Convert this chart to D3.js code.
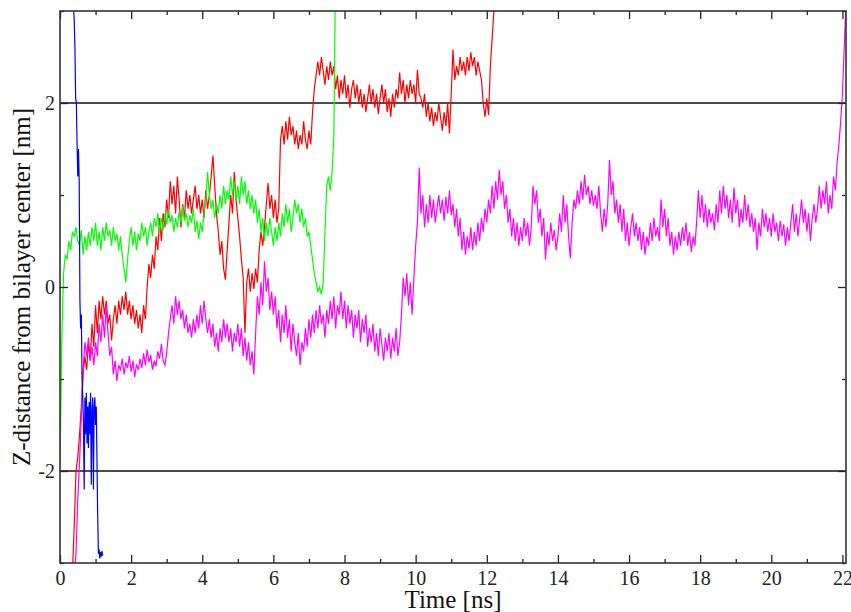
<!DOCTYPE html>
<html>
<head>
<meta charset="utf-8">
<script src="https://cdn.jsdelivr.net/npm/d3@7"></script>
<style>
  body { margin: 0; background: #fff; }
  svg { display: block; }
  .axis path { display: none; }
  .axis line { stroke: #222; stroke-width: 1.3; }
</style>
</head>
<body>
<svg id="chart" width="851" height="612"></svg>
<script>
// time axis (ns) and z ticks
var xTicks = [0, 2, 4, 6, 8, 10, 12, 14, 16, 18, 20, 22];
var xMinor = [1, 3, 5, 7, 9, 11, 13, 15, 17, 19, 21];
var yTicks = [-2, 0, 2];
var yMinor = [-3, -1, 1, 3];
var refLines = [-2, 2];

// each trajectory: start time, sampling step (ns), z values (nm)
var step = 0.05;
var blueStart = 0.30, blueStep = 0.02;
var blueZ = [3.6, 3.4, 3.25, 3.15, 3.05, 2.9, 2.6, 2.05, 2.0, 1.55, 1.2, 1.5, 1.15, -0.15, -0.45, -0.3,
  -1.0, -1.2, -1.5, -2.2, -1.2, -1.6, -1.15, -1.7, -1.3, -1.75, -1.25, -1.6, -1.15, -2.15, -1.35, -1.2,
  -2.2, -1.3, -1.2, -1.5, -1.3, -1.9, -2.5, -2.9, -2.85, -2.95, -2.88, -2.93, -2.87, -2.92];

var greenStart = 0.0;
var greenZ = [-1.95, -0.6, 0.15, 0.35, 0.3, 0.5, 0.4, 0.6, 0.55, 0.65, 0.5, 0.45, 0.62, 0.35, 0.55, 0.4,
  0.6, 0.45, 0.65, 0.5, 0.7, 0.45, 0.6, 0.4, 0.65, 0.5, 0.7, 0.55, 0.62, 0.45, 0.65, 0.5, 0.58, 0.4, 0.55,
  0.35, 0.2, 0.05, 0.3, 0.5, 0.65, 0.45, 0.6, 0.4, 0.58, 0.5, 0.7, 0.55, 0.65, 0.45, 0.6, 0.7, 0.55, 0.75,
  0.65, 0.8, 0.6, 0.75, 0.62, 0.8, 0.68, 0.85, 0.7, 0.78, 0.6, 0.75, 0.65, 0.82, 0.7, 0.88, 0.72, 0.8, 0.65,
  0.78, 0.7, 0.85, 0.6, 0.72, 0.52, 0.7, 0.6, 0.8, 0.95, 1.25, 1.0, 0.85, 0.95, 0.75, 0.9, 0.8, 1.0, 0.85,
  1.1, 0.9, 1.05, 0.95, 1.2, 1.0, 1.15, 0.95, 1.1, 0.9, 1.2, 1.0, 1.15, 0.9, 1.05, 0.85, 1.0, 0.8, 0.95,
  0.7, 0.85, 0.6, 0.75, 0.5, 0.7, 0.55, 0.75, 0.6, 0.45, 0.65, 0.5, 0.7, 0.55, 0.8, 0.65, 0.9, 0.7, 0.85,
  0.6, 0.75, 0.95, 0.8, 0.9, 0.7, 0.85, 0.65, 0.75, 0.55, 0.6, 0.45, 0.3, 0.15, 0.05, -0.05, 0.0, -0.08,
  0.05, 0.6, 1.1, 1.2, 1.05, 1.25, 1.65, 3.5];

var redStart = 0.35;
var redZ = [-3.1, -2.6, -2.0, -1.85, -1.6, -1.3, -0.95, -0.75, -0.9, -0.6, -0.8, -0.4, -0.65, -0.2, -0.5,
  -0.15, -0.35, -0.1, -0.3, -0.15, -0.4, -0.3, -0.58, -0.35, -0.2, -0.4, -0.15, -0.3, -0.1, -0.25, -0.05,
  -0.3, -0.15, -0.35, -0.2, -0.4, -0.25, -0.45, -0.3, -0.5, -0.2, -0.35, 0.0, 0.25, 0.1, 0.35, 0.2, 0.55,
  0.4, 0.75, 0.5, 0.8, 0.65, 0.95, 0.75, 1.15, 0.9, 1.1, 0.8, 1.2, 0.95, 0.65, 0.9, 0.75, 1.05, 0.85, 1.0,
  0.8, 0.95, 1.1, 0.85, 1.0, 0.8, 0.95, 0.75, 1.05, 0.85, 1.0, 1.2, 1.43, 1.1, 0.8, 0.6, 0.35, 0.5, 0.2,
  0.08, 0.4, 0.7, 1.0, 0.8, 1.25, 0.95, 0.75, 0.55, 0.3, 0.1, -0.5, 0.05, 0.2, -0.05, 0.15, -0.02, 0.2,
  0.05, 0.4, 0.6, 0.45, 0.65, 0.9, 1.13, 0.85, 1.0, 0.75, 0.95, 0.7, 0.85, 1.6, 1.75, 1.55, 1.8, 1.6, 1.85,
  1.65, 1.75, 1.55, 1.7, 1.5, 1.65, 1.55, 1.8, 1.6, 1.5, 1.7, 1.55, 1.9, 2.15, 2.3, 2.45, 2.3, 2.5, 2.35,
  2.2, 2.4, 2.25, 2.45, 2.3, 2.4, 2.15, 2.3, 2.05, 2.25, 2.1, 2.3, 2.05, 2.2, 1.95, 2.15, 2.25, 2.05, 2.2,
  2.0, 2.15, 1.95, 2.1, 1.9, 2.05, 2.2, 2.0, 2.15, 1.95, 2.1, 1.88, 2.05, 2.2, 2.0, 2.15, 1.9, 2.05, 1.85,
  2.1, 1.95, 2.15, 2.05, 2.33, 2.1, 2.25, 2.0, 2.2, 2.05, 2.25, 2.1, 2.2, 2.0, 2.36, 2.1, 2.05, 1.95, 2.1,
  1.85, 2.0, 1.8, 1.95, 1.75, 1.9, 1.8, 2.0, 1.85, 1.7, 1.9, 1.75, 2.0, 1.67, 2.1, 2.58, 2.25, 2.4, 2.3,
  2.5, 2.35, 2.45, 2.3, 2.5, 2.35, 2.55, 2.4, 2.5, 2.3, 2.45, 2.35, 2.25, 2.0, 1.85, 2.05, 1.87, 2.4, 2.7,
  3.0, 3.4];

var magentaStart = 0.40;
var magentaZ = [-3.1, -2.9, -2.3, -1.9, -1.4, -0.9, -0.6, -0.75, -0.55, -0.8, -0.65, -0.85, -0.6, -0.75,
  -0.4, -0.6, -0.3, -0.55, -0.2, -0.5, -0.75, -0.65, -0.95, -0.8, -1.02, -0.85, -0.9, -0.78, -0.95, -0.82,
  -0.88, -0.75, -0.92, -0.8, -0.98, -0.84, -0.9, -0.78, -0.88, -0.72, -0.85, -0.68, -0.82, -0.74, -0.9,
  -0.8, -0.86, -0.7, -0.78, -0.62, -0.8, -0.85, -0.72, -0.5, -0.35, -0.2, -0.4, -0.1, -0.3, -0.15, -0.35,
  -0.25, -0.45, -0.3, -0.5, -0.4, -0.55, -0.35, -0.5, -0.3, -0.45, -0.2, -0.4, -0.15, -0.35, -0.5, -0.35,
  -0.55, -0.4, -0.65, -0.5, -0.7, -0.45, -0.6, -0.35, -0.55, -0.4, -0.6, -0.45, -0.7, -0.5, -0.6, -0.4,
  -0.65, -0.45, -0.75, -0.55, -0.8, -0.6, -0.85, -0.7, -0.95, -0.5, -0.1, -0.3, 0.05, -0.2, 0.28, -0.05,
  0.1, -0.25, -0.05, -0.3, -0.1, -0.45, -0.25, -0.6, -0.3, -0.5, -0.2, -0.55, -0.35, -0.7, -0.4, -0.6,
  -0.75, -0.5, -0.85, -0.6, -0.7, -0.45, -0.65, -0.35, -0.55, -0.3, -0.5, -0.25, -0.45, -0.2, -0.4, -0.3,
  -0.55, -0.25, -0.4, -0.15, -0.35, -0.1, -0.45, -0.2, -0.3, -0.05, -0.35, -0.15, -0.45, -0.2, -0.4, -0.25,
  -0.55, -0.3, -0.45, -0.25, -0.6, -0.35, -0.5, -0.3, -0.65, -0.45, -0.6, -0.4, -0.7, -0.5, -0.75, -0.45,
  -0.62, -0.8, -0.55, -0.7, -0.5, -0.78, -0.55, -0.7, -0.45, -0.75, -0.6, -0.3, 0.1, -0.1, 0.15, -0.2,
  0.05, -0.3, 0.1, 0.45, 0.7, 1.3, 0.8, 1.0, 0.65, 0.9, 0.7, 1.0, 0.75, 0.95, 0.7, 0.85, 1.0, 0.8, 0.95,
  0.72, 0.98, 0.8, 1.05, 0.78, 0.9, 0.65, 0.85, 0.55, 0.75, 0.4, 0.6, 0.35, 0.55, 0.42, 0.65, 0.4, 0.6,
  0.45, 0.7, 0.5, 0.75, 0.6, 0.85, 0.7, 0.95, 0.8, 1.1, 0.85, 1.15, 0.95, 1.27, 1.0, 1.15, 0.85, 1.0, 0.7,
  0.85, 0.55, 0.75, 0.5, 0.7, 0.45, 0.65, 0.5, 0.75, 0.55, 0.7, 0.45, 0.65, 1.1, 0.9, 1.05, 0.7, 0.85,
  0.55, 0.75, 0.3, 0.6, 0.45, 0.7, 0.5, 0.62, 0.4, 0.55, 0.8, 0.6, 1.0, 0.7, 0.9, 0.55, 0.31, 0.7, 0.95,
  0.85, 1.05, 0.9, 1.15, 0.95, 1.22, 1.0, 1.1, 0.9, 1.05, 0.88, 1.0, 0.85, 1.1, 0.8, 0.6, 0.85, 0.65, 0.9,
  1.38, 1.0, 1.15, 0.8, 0.95, 0.7, 0.9, 0.6, 0.85, 0.5, 0.7, 0.45, 0.65, 0.8, 0.55, 0.7, 0.5, 0.65, 0.4,
  0.6, 0.35, 0.55, 0.45, 0.7, 0.5, 0.75, 0.55, 0.65, 0.5, 0.95, 0.65, 0.85, 0.55, 0.75, 0.45, 0.6, 0.35,
  0.55, 0.4, 0.6, 0.45, 0.65, 0.5, 0.7, 0.45, 0.6, 0.38, 0.55, 0.45, 0.7, 1.05, 0.75, 1.0, 0.7, 0.9, 0.65,
  0.85, 0.7, 0.8, 0.62, 0.9, 0.7, 1.05, 0.8, 1.1, 0.85, 1.0, 0.75, 0.95, 0.7, 1.08, 0.8, 0.95, 0.65, 0.85,
  0.7, 1.0, 0.72, 0.9, 0.65, 0.8, 0.6, 0.75, 0.4, 0.7, 0.55, 0.85, 0.65, 0.8, 0.6, 0.75, 0.55, 0.8, 0.6,
  0.7, 0.5, 0.72, 0.55, 0.68, 0.45, 0.65, 0.5, 0.7, 0.9, 0.6, 0.8, 0.55, 0.75, 0.95, 0.7, 0.85, 0.6, 0.8,
  0.5, 0.75, 0.9, 0.7, 0.85, 1.1, 0.85, 1.05, 0.9, 1.15, 0.8, 1.0, 0.85, 1.2, 1.05, 1.35, 1.55, 1.8, 2.1,
  2.6, 3.1];

var series = [
  { name: "red", color: "#ff0000", start: redStart, dt: step, z: redZ },
  { name: "magenta", color: "#ff00ff", start: magentaStart, dt: step, z: magentaZ },
  { name: "green", color: "#00ff00", start: greenStart, dt: step, z: greenZ },
  { name: "blue", color: "#0000ff", start: blueStart, dt: blueStep, z: blueZ }
];

var serif = "'Liberation Serif', 'DejaVu Serif', serif";
var svg = d3.select("#chart");
var plotLeft = 60, plotRight = 846, plotTop = 11, plotBottom = 563;

var x = d3.scaleLinear().domain([0, 22.1]).range([plotLeft, plotRight]);
var y = d3.scaleLinear().domain([-3, 3]).range([plotBottom, plotTop]);

svg.append("clipPath").attr("id", "plotclip")
  .append("rect")
  .attr("x", plotLeft).attr("y", plotTop)
  .attr("width", plotRight - plotLeft).attr("height", plotBottom - plotTop);

// horizontal guide lines at +-2 nm
svg.append("g").selectAll("line")
  .data(refLines)
  .enter().append("line")
  .attr("x1", plotLeft).attr("x2", plotRight)
  .attr("y1", function(d) { return y(d); })
  .attr("y2", function(d) { return y(d); })
  .attr("stroke", "#111")
  .attr("stroke-width", 1.3);

var line = d3.line()
  .x(function(d) { return x(d[0]); })
  .y(function(d) { return y(d[1]); });

var plot = svg.append("g").attr("clip-path", "url(#plotclip)");
series.forEach(function(s) {
  var pts = s.z.map(function(v, i) { return [s.start + i * s.dt, v]; });
  plot.append("path")
    .datum(pts)
    .attr("fill", "none")
    .attr("stroke", s.color)
    .attr("stroke-width", 1.2)
    .attr("d", line);
});

// axes: ticks point inward on all four sides
function addAxis(axis, tx, ty) {
  var g = svg.append("g").attr("class", "axis")
    .attr("transform", "translate(" + tx + "," + ty + ")")
    .call(axis);
  g.attr("font-family", serif).attr("font-size", 20);
  g.selectAll("text").attr("fill", "#222").style("font-family", serif);
  return g;
}
var noLabel = function() { return ""; };
var plain = function(d) { return String(d); };

addAxis(d3.axisBottom(x).tickValues(xTicks).tickSize(-8).tickPadding(8).tickFormat(plain), 0, plotBottom);
addAxis(d3.axisBottom(x).tickValues(xMinor).tickSize(-4).tickFormat(noLabel), 0, plotBottom);
addAxis(d3.axisTop(x).tickValues(xTicks).tickSize(-8).tickFormat(noLabel), 0, plotTop);
addAxis(d3.axisTop(x).tickValues(xMinor).tickSize(-4).tickFormat(noLabel), 0, plotTop);
addAxis(d3.axisLeft(y).tickValues(yTicks).tickSize(-8).tickPadding(5).tickFormat(plain), plotLeft, 0);
addAxis(d3.axisLeft(y).tickValues(yMinor).tickSize(-4).tickFormat(noLabel), plotLeft, 0);
addAxis(d3.axisRight(y).tickValues(yTicks).tickSize(-8).tickFormat(noLabel), plotRight, 0);
addAxis(d3.axisRight(y).tickValues(yMinor).tickSize(-4).tickFormat(noLabel), plotRight, 0);

// frame
svg.append("rect")
  .attr("x", plotLeft).attr("y", plotTop)
  .attr("width", plotRight - plotLeft).attr("height", plotBottom - plotTop)
  .attr("fill", "none")
  .attr("stroke", "#333")
  .attr("stroke-width", 1.6);

svg.append("text")
  .attr("x", (plotLeft + plotRight) / 2)
  .attr("y", 608)
  .attr("text-anchor", "middle")
  .attr("font-size", 25)
  .attr("fill", "#111")
  .style("font-family", serif)
  .text("Time [ns]");

svg.append("text")
  .attr("transform", "translate(30," + ((plotTop + plotBottom) / 2) + ") rotate(-90)")
  .attr("text-anchor", "middle")
  .attr("font-size", 25)
  .attr("fill", "#111")
  .style("font-family", serif)
  .text("Z-distance from bilayer center [nm]");
</script>
</body>
</html>
